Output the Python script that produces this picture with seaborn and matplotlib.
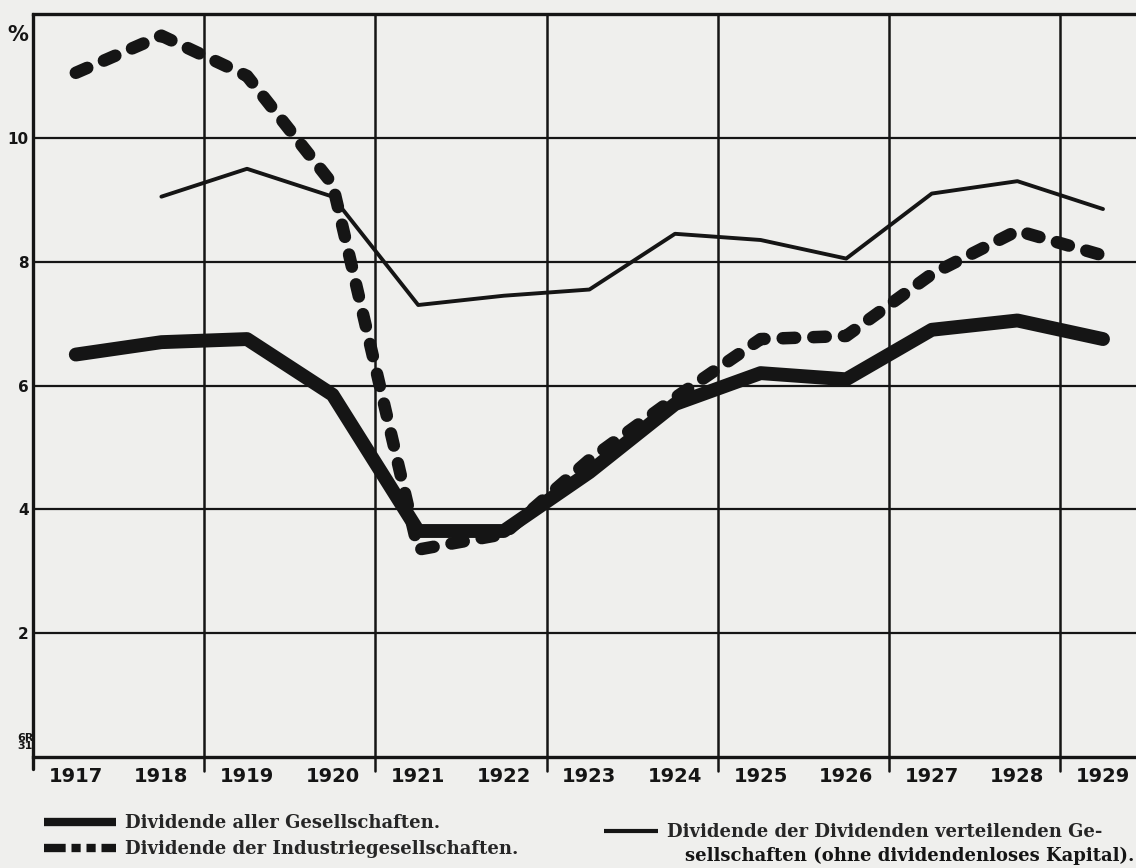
import matplotlib
matplotlib.use("Agg")
import matplotlib.pyplot as plt
from matplotlib.lines import Line2D
import pandas as pd
import seaborn as sns

# Jahresdividenden in Prozent
years = [1917, 1918, 1919, 1920, 1921, 1922, 1923, 1924, 1925, 1926, 1927, 1928, 1929]
alle_gesellschaften = [6.50, 6.70, 6.75, 5.85, 3.65, 3.65, 4.60, 5.70, 6.20, 6.10, 6.90, 7.05, 6.75]
industriegesellschaften = [11.05, 11.65, 11.00, 9.25, 3.35, 3.60, 4.80, 5.80, 6.75, 6.80, 7.80, 8.50, 8.10]
verteilende_jahre = [1918, 1919, 1920, 1921, 1922, 1923, 1924, 1925, 1926, 1927, 1928, 1929]
verteilende_gesellschaften = [9.05, 9.50, 9.05, 7.30, 7.45, 7.55, 8.45, 8.35, 8.05, 9.10, 9.30, 8.85]

y_ticks = [2, 4, 6, 8, 10]
y_minor = [1, 3, 5, 7, 9, 11]
year_labels = [str(y) for y in years]
legend_labels = [
    "Dividende aller Gesellschaften.",
    "Dividende der Industriegesellschaften.",
    "Dividende der Dividenden verteilenden Ge-",
]
legend_label_cont = "sellschaften (ohne dividendenloses Kapital)."

PAPER = "#efefed"
INK = "#151515"
SANS = ["DejaVu Sans"]

sns.set_style("white")
plt.rcParams["font.family"] = ["DejaVu Serif"]

W, H = 1136, 868
fig = plt.figure(figsize=(W / 100, H / 100), dpi=100, facecolor=PAPER)
ax = fig.add_axes([33 / W, 111 / H, 1103 / W, 743 / H])
ax.set_facecolor(PAPER)

px_per_year = 85.6
ax.set_xlim(1916.5, 1916.5 + 1103 / px_per_year)
ax.set_ylim(0, 12)

# grid: horizontal every 2 %, vertical every second year boundary
for yv in y_ticks:
    ax.axhline(yv, color=INK, lw=1.6, zorder=1)
boundaries = [y + 0.5 for y in years[:-1]]
for b in boundaries[1::2]:
    ax.axvline(b, ymin=-0.019, ymax=1, color=INK, lw=1.8, zorder=1, clip_on=False)
ax.plot([0, 0], [-0.016, 1], transform=ax.transAxes, color=INK, lw=2.4,
        clip_on=False, zorder=3)

df_alle = pd.DataFrame({"Jahr": years, "Dividende": alle_gesellschaften})
df_ind = pd.DataFrame({"Jahr": years, "Dividende": industriegesellschaften})
df_vert = pd.DataFrame({"Jahr": verteilende_jahre, "Dividende": verteilende_gesellschaften})

sns.lineplot(data=df_alle, x="Jahr", y="Dividende", ax=ax, color=INK, linewidth=10,
             solid_capstyle="round", solid_joinstyle="round", zorder=4)
sns.lineplot(data=df_ind, x="Jahr", y="Dividende", ax=ax, color=INK, linewidth=9,
             linestyle=(0, (1.0, 1.45)), dash_capstyle="round",
             dash_joinstyle="round", zorder=5)
sns.lineplot(data=df_vert, x="Jahr", y="Dividende", ax=ax, color=INK, linewidth=2.8,
             solid_capstyle="round", solid_joinstyle="round", zorder=4)

ax.set_xlabel("")
ax.set_ylabel("")

# axes frame
for side in ["left", "right"]:
    ax.spines[side].set_visible(False)
for side in ["top", "bottom"]:
    ax.spines[side].set_color(INK)
    ax.spines[side].set_linewidth(2.4)

ax.set_xticks(years, labels=year_labels, fontsize=14, fontweight="bold", family=SANS)
ax.set_xticks(boundaries, minor=True)
ax.tick_params(axis="x", which="major", length=0, pad=7, colors=INK)
ax.tick_params(axis="x", which="minor", direction="inout", length=21, width=1.8, color=INK)

ax.set_yticks(y_ticks, labels=[str(v) for v in y_ticks], fontsize=11, fontweight="bold",
              family=SANS)
ax.set_yticks(y_minor, minor=True)
ax.tick_params(axis="y", which="major", length=0, pad=3, colors=INK)
ax.tick_params(axis="y", which="minor", direction="in", length=8, width=1.8, color=INK)

ax.text(-0.004, 0.985, "%", transform=ax.transAxes, ha="right", va="top",
        fontsize=15, fontweight="bold", family=SANS, color=INK)
fig.text(25 / W, 1 - 742 / H, "6R\n31", ha="center", va="center", fontsize=8,
         fontweight="bold", family=SANS, color=INK, linespacing=0.8)

legend_font = dict(family="DejaVu Serif", weight="bold", size=13)
h_alle = Line2D([], [], color=INK, lw=6, solid_capstyle="butt")
h_ind = Line2D([], [], color=INK, lw=6, linestyle=(0, (2.6, 0.7, 1.1, 0.7, 1.1, 0.7)))
h_vert = Line2D([], [], color=INK, lw=3, solid_capstyle="butt")

leg1 = fig.legend([h_alle, h_ind], legend_labels[:2], loc="center left",
                  bbox_to_anchor=(44 / W, 1 - 836 / H), frameon=False, prop=legend_font,
                  handlelength=4.0, handletextpad=0.5, labelspacing=0.45,
                  borderpad=0, borderaxespad=0)
leg2 = fig.legend([h_vert], legend_labels[2:], loc="center left",
                  bbox_to_anchor=(604 / W, 1 - 832 / H), frameon=False, prop=legend_font,
                  handlelength=3.0, handletextpad=0.5, borderpad=0, borderaxespad=0)
fig.text(1134 / W, 1 - 856 / H, legend_label_cont, ha="right", va="center",
         fontsize=13, fontweight="bold", family="DejaVu Serif", color=INK)

fig.savefig("out.png", dpi=100, facecolor=PAPER)
